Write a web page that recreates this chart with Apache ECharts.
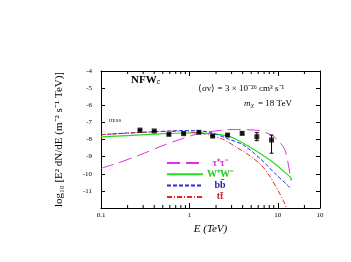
<!DOCTYPE html>
<html>
<head>
<meta charset="utf-8">
<script src="https://cdn.jsdelivr.net/npm/echarts@6/dist/echarts.min.js"></script>
<style>
html,body{margin:0;padding:0;background:#fff;}
#chart{width:351px;height:262px;}
</style>
</head>
<body>
<div id="chart"></div>
<script>
// ---- data ----
var xTickLabels = ['0.1', '1', '10'];
var yTickLabels = ['-4', '-5', '-6', '-7', '-8', '-9', '-10', '-11'];
var minorTickE = [0.2,0.3,0.4,0.5,0.6,0.7,0.8,0.9,2,3,4,5,6,7,8,9,20];

var hessE    = [0.276, 0.40, 0.586, 0.86, 1.28, 1.83, 2.70, 3.95, 5.79, 8.49];
var hessVal  = [-7.45, -7.50, -7.70, -7.66, -7.58, -7.80, -7.74, -7.64, -7.84, -8.03];
var hessErrUp   = [0.04, 0.03, 0.04, 0.04, 0.04, 0.05, 0.06, 0.07, 0.24, 0.29];
var hessErrDown = [0.04, 0.03, 0.04, 0.04, 0.04, 0.05, 0.07, 0.08, 0.23, 0.77];

var tauE = [0.1, 0.15, 0.276, 0.465, 0.85, 1.31, 2.0, 2.63, 3.4, 4.57, 6.5, 7.5, 8.9, 10.5, 12.0, 13.1, 13.7, 14.0];
var tauV = [-9.68, -9.4, -8.9, -8.42, -7.93, -7.64, -7.5, -7.43, -7.42, -7.43, -7.5, -7.62, -7.81, -8.15, -8.6, -9.4, -10.0, -10.4];

var wwE = [0.1, 0.2, 0.4, 0.8, 1.3, 1.71, 2.87, 4.06, 6.27, 9.66, 12.0, 13.7, 14.4];
var wwV = [-7.85, -7.77, -7.69, -7.62, -7.61, -7.66, -7.83, -8.22, -8.81, -9.49, -9.92, -10.17, -10.36];

var bbE = [0.1, 0.2, 0.4, 0.8, 1.2, 1.71, 2.87, 4.06, 6.27, 9.66, 12.5, 14.3];
var bbV = [-7.72, -7.62, -7.55, -7.48, -7.49, -7.58, -8.0, -8.32, -9.1, -10.07, -10.6, -10.9];

var ttE = [0.1, 0.2, 0.4, 0.7, 1.0, 1.4, 1.86, 2.5, 3.4, 4.83, 6.5, 8.0, 10.0, 11.5, 12.5];
var ttV = [-7.72, -7.63, -7.55, -7.52, -7.56, -7.65, -7.8, -8.03, -8.45, -8.95, -9.5, -10.1, -10.95, -11.55, -12.0];

var seriesNames = ['τ⁺τ⁻', 'W⁺W⁻', 'bb̄', 'tt̄'];

function pairs(xs, ys){ return xs.map(function(x,i){ return [x, ys[i]]; }); }

var FONT = 'Liberation Serif';
var chart = echarts.init(document.getElementById('chart'), null, {renderer:'canvas'});

var option = {
  backgroundColor: '#fff',
  animation: false,
  grid: {left: 101, right: 31, top: 71, bottom: 54},
  legend: {
    orient: 'vertical',
    left: 161, top: 153,
    itemWidth: 36, itemHeight: 9, itemGap: 1.3,
    itemStyle: {opacity: 0},
    data: [
      {name: seriesNames[0], textStyle: {color: '#e030e0'}},
      {name: seriesNames[1], textStyle: {color: '#22cc22'}},
      {name: seriesNames[2], textStyle: {color: '#2020c0'}},
      {name: seriesNames[3], textStyle: {color: '#c02020'}}
    ],
    formatter: function(n){ return '{a|' + n + '}'; },
    textStyle: {
      fontFamily: FONT, fontSize: 10, fontWeight: 'bold', lineHeight: 9,
      rich: {a: {width: 24, height: 9, align: 'center', fontFamily: FONT, fontSize: 10, fontWeight: 'bold', lineHeight: 9}}
    }
  },
  xAxis: [{
    type: 'log', logBase: 10, min: 0.1, max: 30,
    name: 'E (TeV)', nameLocation: 'middle', nameGap: 10,
    nameTextStyle: {fontFamily: FONT, fontSize: 11, color: '#000', fontStyle: 'italic'},
    axisLine: {lineStyle: {color: '#000', width: 1}},
    axisTick: {inside: true, length: 5, lineStyle: {color: '#000'}},
    axisLabel: {fontFamily: FONT, fontSize: 7, color: '#000', margin: 4,
      formatter: function(v){ var i = Math.round(Math.log10(v)) + 1; return xTickLabels[i] || ''; }},
    splitLine: {show: false}
  }, {
    type: 'log', logBase: 10, min: 0.1, max: 30, position: 'top',
    axisLine: {lineStyle: {color: '#000', width: 1}},
    axisTick: {inside: true, length: 5, lineStyle: {color: '#000'}},
    axisLabel: {show: false}, splitLine: {show: false}
  }],
  yAxis: [{
    type: 'value', min: -12, max: -4, interval: 1,
    name: 'log₁₀ [E² dN/dE (m⁻² s⁻¹ TeV)]', nameLocation: 'middle', nameGap: 36,
    nameTextStyle: {fontFamily: FONT, fontSize: 11, color: '#000'},
    axisLine: {lineStyle: {color: '#000', width: 1}},
    axisTick: {inside: true, length: 4, lineStyle: {color: '#000'}},
    axisLabel: {fontFamily: FONT, fontSize: 7, color: '#000', margin: 9,
      formatter: function(v){ var i = Math.round(-4 - v); return yTickLabels[i] || ''; }},
    splitLine: {show: false}
  }, {
    type: 'value', min: -12, max: -4, interval: 1, position: 'right',
    axisLine: {show: true, lineStyle: {color: '#000', width: 1}},
    axisTick: {show: true, inside: true, length: 4, lineStyle: {color: '#000'}},
    axisLabel: {show: false}, splitLine: {show: false}
  }],
  graphic: [
    {type: 'text', left: 131, top: 75, style: {text: 'NFW{s|c}', font: 'bold 11px "Liberation Serif"', fill: '#000',
      rich: {s: {fontSize: 7, fontStyle: 'italic', verticalAlign: 'bottom', padding: [4,0,0,0]}}}},
    {type: 'text', left: 198, top: 84, style: {text: '⟨σv⟩ = 3 × 10⁻²⁶ cm³ s⁻¹', font: '9px "Liberation Serif"', fill: '#000'}},
    {type: 'text', left: 244, top: 99, style: {text: 'm', font: 'italic 9px "Liberation Serif"', fill: '#000'}},
    {type: 'text', left: 251, top: 102, style: {text: 'χ', font: 'italic 7px "Liberation Serif"', fill: '#000'}},
    {type: 'text', left: 258, top: 99, style: {text: '= 18 TeV', font: '9px "Liberation Serif"', fill: '#000'}},
    {type: 'text', left: 109, top: 118, style: {text: 'HESS', font: '5px "Liberation Serif"', fill: '#000'}}
  ],
  series: [
    {
      name: seriesNames[0], type: 'line', data: pairs(tauE, tauV), symbol: 'none', smooth: 0.3,
      lineStyle: {color: '#e030e0', width: 1, type: [13, 6]}, itemStyle: {color: '#e030e0'}, z: 3
    },
    {
      name: seriesNames[1], type: 'line', data: pairs(wwE, wwV), symbol: 'none', smooth: 0.3,
      lineStyle: {color: '#22dd22', width: 1.2, type: 'solid'}, itemStyle: {color: '#22dd22'}, z: 3
    },
    {
      name: seriesNames[2], type: 'line', data: pairs(bbE, bbV), symbol: 'none', smooth: 0.3,
      lineStyle: {color: '#2828ee', width: 1, type: [4, 2]}, itemStyle: {color: '#2828ee'}, z: 3
    },
    {
      name: seriesNames[3], type: 'line', data: pairs(ttE, ttV), symbol: 'none', smooth: 0.3,
      lineStyle: {color: '#ee2222', width: 1, type: [5, 2, 1, 2]}, itemStyle: {color: '#ee2222'}, z: 3
    },
    {
      name: 'HESS', type: 'scatter', data: pairs(hessE, hessVal), symbol: 'rect', symbolSize: 5,
      itemStyle: {color: '#000'}, z: 5
    },
    {
      name: 'HESS err', type: 'custom', z: 4,
      data: hessE.map(function(e,i){ return [e, hessVal[i] + hessErrUp[i], hessVal[i] - hessErrDown[i]]; }),
      renderItem: function(params, api){
        var top = api.coord([api.value(0), api.value(1)]);
        var bot = api.coord([api.value(0), api.value(2)]);
        var cw = 2;
        return {type: 'group', children: [
          {type: 'line', shape: {x1: top[0], y1: top[1], x2: bot[0], y2: bot[1]}, style: {stroke: '#000', lineWidth: 1}},
          {type: 'line', shape: {x1: top[0]-cw, y1: top[1], x2: top[0]+cw, y2: top[1]}, style: {stroke: '#000', lineWidth: 1}},
          {type: 'line', shape: {x1: bot[0]-cw, y1: bot[1], x2: bot[0]+cw, y2: bot[1]}, style: {stroke: '#000', lineWidth: 1}}
        ]};
      }
    },
    {
      name: 'minor ticks', type: 'custom', z: 2, silent: true,
      data: minorTickE.map(function(e){ return [e]; }),
      renderItem: function(params, api){
        var b = api.coord([api.value(0), -12]);
        var t = api.coord([api.value(0), -4]);
        return {type: 'group', children: [
          {type: 'line', shape: {x1: b[0], y1: b[1], x2: b[0], y2: b[1]-3}, style: {stroke: '#000', lineWidth: 1}},
          {type: 'line', shape: {x1: t[0], y1: t[1], x2: t[0], y2: t[1]+3}, style: {stroke: '#000', lineWidth: 1}}
        ]};
      }
    }
  ]
};
chart.setOption(option);
</script>
</body>
</html>
